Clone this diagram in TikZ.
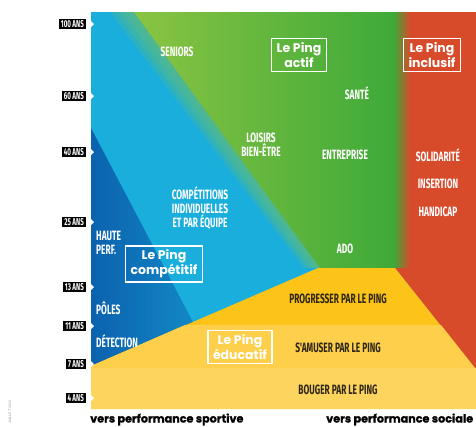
\documentclass[tikz,border=0pt]{standalone}
\usepackage{fontspec}
\usepackage{tikz}
\newfontfamily\condfont[FakeStretch=0.62]{Fira Sans}
\newfontfamily\popfont{Poppins}
\newfontfamily\versfont[FakeBold=0.8]{Poppins}
\definecolor{pcyan}{HTML}{1AAEDD}
\definecolor{pblue}{HTML}{0B62AE}
\definecolor{pgreenL}{HTML}{8AC443}
\definecolor{pgreenD}{HTML}{3CA938}
\definecolor{pred}{HTML}{D84B2A}
\definecolor{pyelA}{HTML}{FCC418}
\definecolor{pyelB}{HTML}{FDCF4A}
\definecolor{pyelC}{HTML}{FCD45E}
\definecolor{ptxt}{HTML}{2E2618}

\begin{document}
\begin{tikzpicture}[x=1pt, y=-1pt, line cap=round,line join=round,
  lbl/.style={text=white, font=\condfont\bfseries\fontsize{13.5}{14}\selectfont, align=center, inner sep=0pt},
  dlbl/.style={lbl, text=ptxt},
  age/.style={fill=black, text=white, font=\condfont\bfseries\fontsize{10}{10}\selectfont, inner xsep=2pt, inner ysep=1pt, anchor=east},
  pingbox/.style={draw=white, line width=1.4pt, line join=miter, text=white, align=center,
    font=\popfont\bfseries\fontsize{12.5}{11.5}\selectfont, inner xsep=5pt, inner ysep=4pt},
  vers/.style={font=\versfont\bfseries\fontsize{11.2}{12}\selectfont, anchor=base west, inner sep=0pt}]
\useasboundingbox (0,0) rectangle (476,426);

% zones
\fill[pcyan] (91,12) rectangle (476,409);
\foreach \t/\b in {110/304,116/308,122/312,128/316}
  \fill[pgreenL!70!pcyan, opacity=0.25] (\t,12)--(402,12)--(395,268)--(\b,268)--cycle;
\shade[left color=pgreenL, right color=pgreenD] (134,12)--(402,12)--(395,268)--(320,268)--cycle;
\shade[left color=pgreenD, right color=pred] (394,12) rectangle (410,268);
\fill[pred] (410,12)--(476,12)--(476,370)--(395,268)--(410,268)--cycle;
\shade[left color=pblue, right color=pblue!45!pcyan] (91,128)--(205,345)--(91,372)--cycle;
\fill[pyelA] (91,366)--(318,268)--(395,268)--(476,370)--(476,409)--(91,409)--cycle;
\fill[pyelB] (185,325)--(441,325)--(475,368)--(91,368)--(91,366)--cycle;
\fill[pyelC] (91,368) rectangle (476,409);

% ticks
\foreach \y in {24,96,152,222,287,326,364,398}
  \fill[white] (91,\y-3)--(94,\y)--(91,\y+3)--cycle;

\node[age] (a100) at (86,24) {100 ANS};
\node[age] (a60) at (86,96) {60 ANS};
\node[age] (a40) at (86,152) {40 ANS};
\node[age] (a25) at (86,222) {25 ANS};
\node[age] (a13) at (86,287) {13 ANS};
\node[age] (a11) at (86,326) {11 ANS};
\node[age] (a7) at (86,364) {7 ANS};
\node[age] (a4) at (86,398) {4 ANS};

\node[lbl] (seniors) at (177,52) {SENIORS};
\node[lbl] (sante) at (357,93) {SANTÉ};
\node[lbl] (loisirs) at (261,145) {LOISIRS\\BIEN-ÊTRE};
\node[lbl] (entreprise) at (345,155) {ENTREPRISE};
\node[lbl] (solidarite) at (438,155) {SOLIDARITÉ};
\node[lbl] (insertion) at (438,184) {INSERTION};
\node[lbl] (handicap) at (438,212) {HANDICAP};
\node[lbl] (competitions) at (200,208) {COMPÉTITIONS\\INDIVIDUELLES\\ET PAR ÉQUIPE};
\node[lbl, align=left, anchor=west] (haute) at (96,243) {HAUTE\\PERF.};
\node[lbl, anchor=west] (poles) at (96,308) {PÔLES};
\node[lbl, anchor=west] (detection) at (96,341) {DÉTECTION};
\node[lbl] (ado) at (345,249) {ADO};
\node[dlbl] (progresser) at (338,299) {PROGRESSER PAR LE PING};
\node[dlbl] (samuser) at (338,348) {S'AMUSER PAR LE PING};
\node[dlbl] (bouger) at (338,390) {BOUGER PAR LE PING};

\node[pingbox] (actif) at (299,55) {Le Ping\\actif};
\node[pingbox] (inclusif) at (432,55) {Le Ping\\inclusif};
\node[pingbox] (competitif) at (164,264) {Le Ping\\compétitif};
\node[pingbox] (educatif) at (240,347) {Le Ping\\éducatif};

\node[vers] (sportive) at (90,422.5) {vers performance sportive};
\node[vers] (sociale) at (326,422.5) {vers performance sociale};
\node[rotate=90, text=black!45, font=\sffamily\fontsize{3.5}{4}\selectfont] (date) at (10,412) {JUILLET 2023};
\end{tikzpicture}
\end{document}
